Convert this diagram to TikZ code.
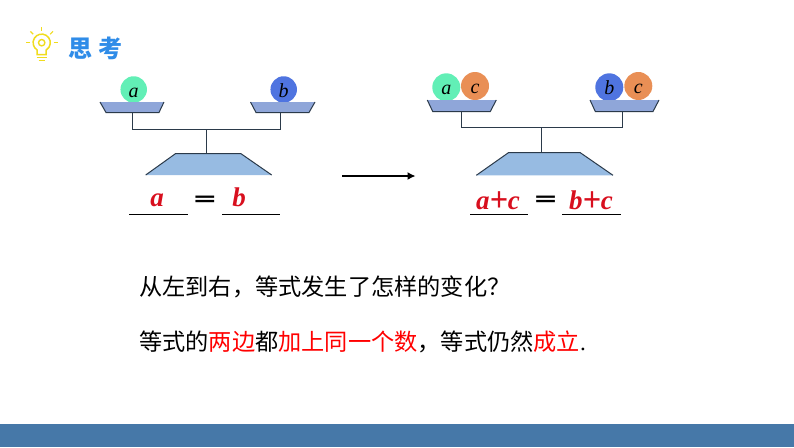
\documentclass[tikz,border=0pt]{standalone}
\usepackage{fontspec}
\setmainfont{Liberation Serif}
\newfontfamily\cjk{Noto Sans CJK SC}
\newfontfamily\eqfont{DejaVu Sans}
\usetikzlibrary{arrows.meta}
\definecolor{ballA}{HTML}{62EFB6}
\definecolor{ballB}{HTML}{4F74E0}
\definecolor{ballC}{HTML}{E98F55}
\definecolor{panblue}{HTML}{8FA6D9}
\definecolor{baseblue}{HTML}{97BBE2}
\definecolor{edgedark}{HTML}{2B3A4A}
\definecolor{barblue}{HTML}{4678A8}
\definecolor{titleblue}{HTML}{2F8CE8}
\definecolor{bulbyellow}{HTML}{F0DC1E}
\definecolor{eqred}{HTML}{D80F1E}
\tikzstyle{ball}=[circle, inner sep=0pt, text height=15pt, text depth=0pt, font=\fontsize{20}{20}\selectfont\itshape]
\tikzstyle{pan}=[fill=panblue]
\tikzstyle{base}=[fill=baseblue]
\tikzstyle{edge}=[draw=edgedark, line width=1pt]
\tikzstyle{rule}=[draw=black, line width=1pt]
\tikzstyle{eq}=[anchor=base, inner sep=0pt, text=eqred, font=\fontsize{27}{27}\selectfont\bfseries\itshape]
\tikzstyle{eqsign}=[inner sep=0pt, font=\fontsize{23}{23}\selectfont\eqfont\bfseries]
\tikzstyle{line}=[anchor=west, inner sep=0pt, font=\fontsize{23.2}{27}\selectfont\cjk]
\tikzstyle{bulbline}=[draw=bulbyellow, line width=1.5pt]
\begin{document}
\begin{tikzpicture}[x=1pt, y=-1pt]
        \useasboundingbox (0,0) rectangle (794,447);
        \fill[barblue] (0,424) rectangle (794,447);

        % title
        \coordinate (bulb) at (41.7,42.7);
        \begin{scope}[shift={(bulb)}]
            \foreach \a in {0,-45,-90,-135,180}
                \draw[bulbline, line width=1.2pt] (\a:12) -- (\a:16);
            \draw[bulbline] (-4.5,12) -- (-4.5,7.33) arc[start angle=121.5, end angle=418.5, radius=8.6] -- (4.5,12) -- cycle;
            \draw[bulbline, line width=1.4pt] (0,0) circle[radius=3.2];
            \draw[bulbline] (-5,15) -- (5,15);
            \draw[bulbline] (-3,18) -- (3,18);
        \end{scope}
        \node (title) [anchor=west, inner sep=0pt, text=titleblue, font=\fontsize{24}{24}\selectfont\cjk\bfseries] at (68,48) {思\hspace{6pt}考};

        % left balance
        \node (ballLa) [ball, fill=ballA, minimum size=26.5pt] at (133.7,89.5) {a};
        \node (ballLb) [ball, fill=ballB, minimum size=26.5pt] at (283.7,89.5) {b};
        \fill[pan] (100,102) -- (164,102) -- (159,112.5) -- (106,112.5) -- cycle;
        \draw[edge] (100,102) -- (106,112.5) -- (159,112.5) -- (164,102);
        \fill[pan] (250.5,102) -- (315,102) -- (309,112.5) -- (256,112.5) -- cycle;
        \draw[edge] (250.5,102) -- (256,112.5) -- (309,112.5) -- (315,102);
        \coordinate (stemLa) at (132.5,112.5);
        \coordinate (stemLb) at (280.5,112.5);
        \coordinate (postL) at (206.5,129.5);
        \coordinate (topL) at (206.5,153.5);
        \draw[edge] (stemLa) |- (postL) -| (stemLb);
        \draw[edge] (postL) -- (topL);
        \fill[base] (175.7,153.5) -- (240.7,153.5) -- (271.7,175) -- (145.7,175) -- cycle;
        \draw[edge] (145.7,175) -- (175.7,153.5) -- (240.7,153.5) -- (271.7,175);

        \node (eqLa) [eq] at (157,206) {a};
        \node (eqLs) [eqsign] at (205,201) {\scalebox{1.3}[0.85]{=}};
        \node (eqLb) [eq] at (239,206) {b};
        \draw[rule] (129,214.5) -- (187.7,214.5);
        \draw[rule] (222.3,214.5) -- (280.3,214.5);

        % arrow
        \coordinate (arrowS) at (342,176);
        \coordinate (arrowE) at (415.5,176);
        \draw[-{Latex[length=8pt,width=8pt]}, line width=1.4pt] (arrowS) -- (arrowE);

        % right balance
        \node (ballRa) [ball, fill=ballA, minimum size=28pt] at (446.3,87.3) {a};
        \node (ballRc) [ball, fill=ballC, minimum size=28pt] at (475,86) {c};
        \node (ballRb) [ball, fill=ballB, minimum size=28pt] at (609.3,87.3) {b};
        \node (ballRd) [ball, fill=ballC, minimum size=28pt] at (638.3,86) {c};
        \fill[pan] (427.3,100) -- (496.3,100) -- (490.3,111.5) -- (432.7,111.5) -- cycle;
        \draw[edge] (427.3,100) -- (432.7,111.5) -- (490.3,111.5) -- (496.3,100);
        \fill[pan] (590,100) -- (659,100) -- (653,111.5) -- (595.3,111.5) -- cycle;
        \draw[edge] (590,100) -- (595.3,111.5) -- (653,111.5) -- (659,100);
        \coordinate (stemRa) at (461.5,111.5);
        \coordinate (stemRb) at (622.5,111.5);
        \coordinate (postR) at (541.5,127.5);
        \coordinate (topR) at (541.5,152.5);
        \draw[edge] (stemRa) |- (postR) -| (stemRb);
        \draw[edge] (postR) -- (topR);
        \fill[base] (508.7,152.5) -- (580,152.5) -- (613,175.3) -- (476.3,175.3) -- cycle;
        \draw[edge] (476.3,175.3) -- (508.7,152.5) -- (580,152.5) -- (613,175.3);

        \node (eqRa) [eq] at (498,209) {a\raisebox{-2pt}{\scalebox{1.2}[1.3]{+}}c};
        \node (eqRs) [eqsign] at (545.7,201) {\scalebox{1.3}[0.85]{=}};
        \node (eqRb) [eq] at (591,209) {b\raisebox{-2pt}{\scalebox{1.2}[1.3]{+}}c};
        \draw[rule] (470,214.5) -- (527.7,214.5);
        \draw[rule] (562.3,214.5) -- (621,214.5);

        % text
        \node (question) [line] at (139,287) {从左到右，等式发生了怎样的变化？};
        \node (answer) [line] at (139,342) {等式的\textcolor{red}{两边}都\textcolor{red}{加上同一个数}，等式仍然\textcolor{red}{成立}{\rmfamily.}};
\end{tikzpicture}
\end{document}
